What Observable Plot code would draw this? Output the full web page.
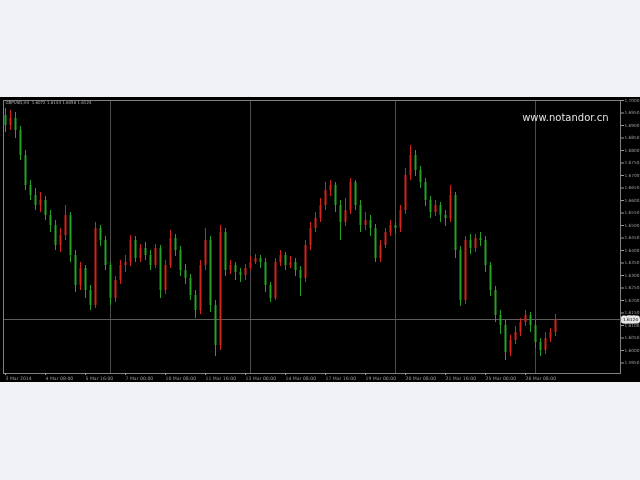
<!DOCTYPE html>
<html>
<head>
<meta charset="utf-8">
<script src="https://cdn.jsdelivr.net/npm/d3@7"></script>
<script src="https://cdn.jsdelivr.net/npm/@observablehq/plot@0.6"></script>
<style>
  html, body { margin: 0; padding: 0; background: #f0f2f5; width: 640px; height: 480px; overflow: hidden; }
  #chart { position: absolute; left: 0; top: 97px; width: 640px; height: 285px; background: #000; filter: blur(0.55px); }
  #chart svg { display: block; }
</style>
</head>
<body>
<div id="chart"></div>
<script>
// ---- data (GBPUSD, H4 candles) ----
const symbolLabel = "GBPUSD,H4";
const watermark = "www.notandor.cn";

const open = [1.6940,1.6900,1.6928,1.6880,1.6780,1.6660,1.6620,1.6580,1.6600,1.6540,1.6500,1.6420,1.6460,1.6540,1.6380,1.6260,1.6328,1.6240,1.6180,1.6488,1.6440,1.6340,1.6208,1.6280,1.6340,1.6352,1.6440,1.6368,1.6408,1.6380,1.6340,1.6408,1.6240,1.6340,1.6448,1.6400,1.6320,1.6288,1.6220,1.6160,1.6340,1.6440,1.6180,1.6020,1.6472,1.6320,1.6340,1.6312,1.6300,1.6328,1.6352,1.6368,1.6352,1.6260,1.6208,1.6352,1.6380,1.6340,1.6352,1.6320,1.6288,1.6420,1.6488,1.6528,1.6580,1.6640,1.6660,1.6580,1.6512,1.6560,1.6672,1.6580,1.6500,1.6520,1.6488,1.6368,1.6420,1.6472,1.6500,1.6488,1.6560,1.6700,1.6780,1.6720,1.6672,1.6600,1.6552,1.6580,1.6540,1.6528,1.6620,1.6400,1.6200,1.6440,1.6408,1.6448,1.6440,1.6340,1.6240,1.6140,1.6100,1.5992,1.6040,1.6072,1.6112,1.6140,1.6100,1.6032,1.6000,1.6048,1.6072];
const high = [1.6968,1.6960,1.6952,1.6896,1.6800,1.6680,1.6648,1.6632,1.6616,1.6560,1.6520,1.6488,1.6580,1.6552,1.6400,1.6352,1.6340,1.6260,1.6512,1.6500,1.6456,1.6352,1.6296,1.6360,1.6380,1.6460,1.6456,1.6424,1.6432,1.6400,1.6424,1.6420,1.6360,1.6480,1.6464,1.6416,1.6344,1.6304,1.6240,1.6360,1.6488,1.6456,1.6200,1.6500,1.6488,1.6360,1.6352,1.6328,1.6344,1.6376,1.6384,1.6380,1.6368,1.6272,1.6368,1.6400,1.6392,1.6376,1.6368,1.6336,1.6440,1.6512,1.6552,1.6608,1.6672,1.6680,1.6672,1.6600,1.6608,1.6688,1.6680,1.6600,1.6552,1.6540,1.6504,1.6440,1.6488,1.6520,1.6512,1.6580,1.6728,1.6820,1.6800,1.6736,1.6688,1.6616,1.6600,1.6592,1.6560,1.6660,1.6632,1.6416,1.6456,1.6464,1.6464,1.6472,1.6456,1.6352,1.6256,1.6160,1.6120,1.6060,1.6096,1.6128,1.6160,1.6152,1.6120,1.6048,1.6072,1.6088,1.6144];
const low = [1.6872,1.6880,1.6848,1.6760,1.6640,1.6600,1.6560,1.6552,1.6520,1.6472,1.6400,1.6392,1.6440,1.6352,1.6232,1.6240,1.6208,1.6160,1.6168,1.6416,1.6320,1.6180,1.6192,1.6264,1.6312,1.6336,1.6352,1.6352,1.6360,1.6320,1.6328,1.6208,1.6224,1.6328,1.6376,1.6296,1.6264,1.6200,1.6128,1.6144,1.6320,1.6152,1.5976,1.6000,1.6296,1.6304,1.6280,1.6272,1.6280,1.6320,1.6344,1.6328,1.6232,1.6192,1.6200,1.6336,1.6320,1.6328,1.6296,1.6216,1.6272,1.6400,1.6472,1.6512,1.6560,1.6616,1.6552,1.6440,1.6496,1.6544,1.6560,1.6472,1.6480,1.6456,1.6352,1.6352,1.6408,1.6456,1.6464,1.6472,1.6544,1.6680,1.6696,1.6648,1.6576,1.6528,1.6536,1.6512,1.6496,1.6512,1.6368,1.6176,1.6184,1.6384,1.6392,1.6416,1.6312,1.6216,1.6112,1.6064,1.5960,1.5976,1.6024,1.6056,1.6096,1.6072,1.6008,1.5976,1.5984,1.6032,1.6056];
const close = [1.6900,1.6928,1.6880,1.6780,1.6660,1.6620,1.6580,1.6600,1.6540,1.6500,1.6420,1.6460,1.6540,1.6380,1.6260,1.6328,1.6240,1.6180,1.6488,1.6440,1.6340,1.6208,1.6280,1.6340,1.6352,1.6440,1.6368,1.6408,1.6380,1.6340,1.6408,1.6240,1.6340,1.6448,1.6400,1.6320,1.6288,1.6220,1.6160,1.6340,1.6440,1.6180,1.6020,1.6472,1.6320,1.6340,1.6312,1.6300,1.6328,1.6352,1.6368,1.6352,1.6260,1.6208,1.6352,1.6380,1.6340,1.6352,1.6320,1.6288,1.6420,1.6488,1.6528,1.6580,1.6640,1.6660,1.6580,1.6512,1.6560,1.6672,1.6580,1.6500,1.6520,1.6488,1.6368,1.6420,1.6472,1.6500,1.6488,1.6560,1.6700,1.6780,1.6720,1.6672,1.6600,1.6552,1.6580,1.6540,1.6528,1.6620,1.6400,1.6200,1.6440,1.6408,1.6448,1.6440,1.6340,1.6240,1.6140,1.6100,1.5992,1.6040,1.6072,1.6112,1.6140,1.6100,1.6032,1.6000,1.6048,1.6072,1.6124];

// price-axis ticks and time-axis labels (bar index -> label)
const yTicks = [1.5950,1.6000,1.6050,1.6100,1.6150,1.6200,1.6250,1.6300,1.6350,1.6400,1.6450,1.6500,1.6550,1.6600,1.6650,1.6700,1.6750,1.6800,1.6850,1.6900,1.6950,1.7000];
const xTickIdx = [0,8,16,24,32,40,48,56,64,72,80,88,96,104];
const xTickLabels = ["3 Mar 2014","4 Mar 08:00","5 Mar 16:00","7 Mar 00:00","10 Mar 08:00","11 Mar 16:00","13 Mar 00:00","14 Mar 08:00","17 Mar 16:00","19 Mar 00:00","20 Mar 08:00","21 Mar 16:00","25 Mar 00:00","26 Mar 08:00"];
const weekStartIdx = [21,49,78,106];

// ---- build ----
const bars = open.map((o, i) => ({i, open: o, high: high[i], low: low[i], close: close[i]}));
const up = bars.filter(d => d.close >= d.open);
const down = bars.filter(d => d.close < d.open);
const last = bars[bars.length - 1];
const fmt4 = d3.format(".4f");
const xLabel = new Map(xTickIdx.map((d, k) => [d, xTickLabels[k]]));
const upColor = "#d2241a";
const downColor = "#27a127";
const info = `${symbolLabel}  ${fmt4(last.open)} ${fmt4(last.high)} ${fmt4(last.low)} ${fmt4(last.close)}`;

const chart = Plot.plot({
  width: 640,
  height: 285,
  marginTop: 3,
  marginBottom: 9,
  marginLeft: 3,
  marginRight: 20,
  x: {domain: [-0.4, 123], axis: null, label: null},
  y: {domain: [1.5908, 1.7000], axis: null, label: null},
  style: {background: "#000", color: "#a0a0a0", fontFamily: "DejaVu Sans, sans-serif"},
  marks: [
    Plot.ruleX(weekStartIdx, {stroke: "#4c4c4c"}),
    Plot.ruleY([last.close], {stroke: "#5c5c5c"}),
    Plot.ruleX(down, {x: "i", y1: "low", y2: "high", stroke: downColor, strokeWidth: 1}),
    Plot.ruleX(down, {x: "i", y1: "open", y2: "close", stroke: downColor, strokeWidth: 2}),
    Plot.ruleX(up, {x: "i", y1: "low", y2: "high", stroke: upColor, strokeWidth: 1}),
    Plot.ruleX(up, {x: "i", y1: "open", y2: "close", stroke: upColor, strokeWidth: 2}),
    Plot.frame({stroke: "#808080"}),
    Plot.axisY(yTicks, {anchor: "right", label: null, tickSize: 3, tickPadding: 1, tickFormat: fmt4, fontSize: 4.3, color: "#9c9c9c"}),
    Plot.axisX(xTickIdx, {anchor: "bottom", label: null, tickSize: 2, tickPadding: 1, tickFormat: d => xLabel.get(d), textAnchor: "start", fontSize: 4.6, color: "#9c9c9c"}),
    Plot.text([last.close], {y: d => d, frameAnchor: "right", dx: 10, text: fmt4, fill: "#000", stroke: "#e6e6e6", strokeWidth: 5, fontSize: 4.3, textAnchor: "middle"}),
    Plot.text([info], {frameAnchor: "top-left", dx: 2, dy: 1, fill: "#b4b4b4", fontSize: 4}),
    Plot.text([watermark], {frameAnchor: "top-right", dx: -12, dy: 13, fill: "#e2e2e2", fontSize: 10})
  ]
});
document.getElementById("chart").appendChild(chart);
</script>
</body>
</html>
